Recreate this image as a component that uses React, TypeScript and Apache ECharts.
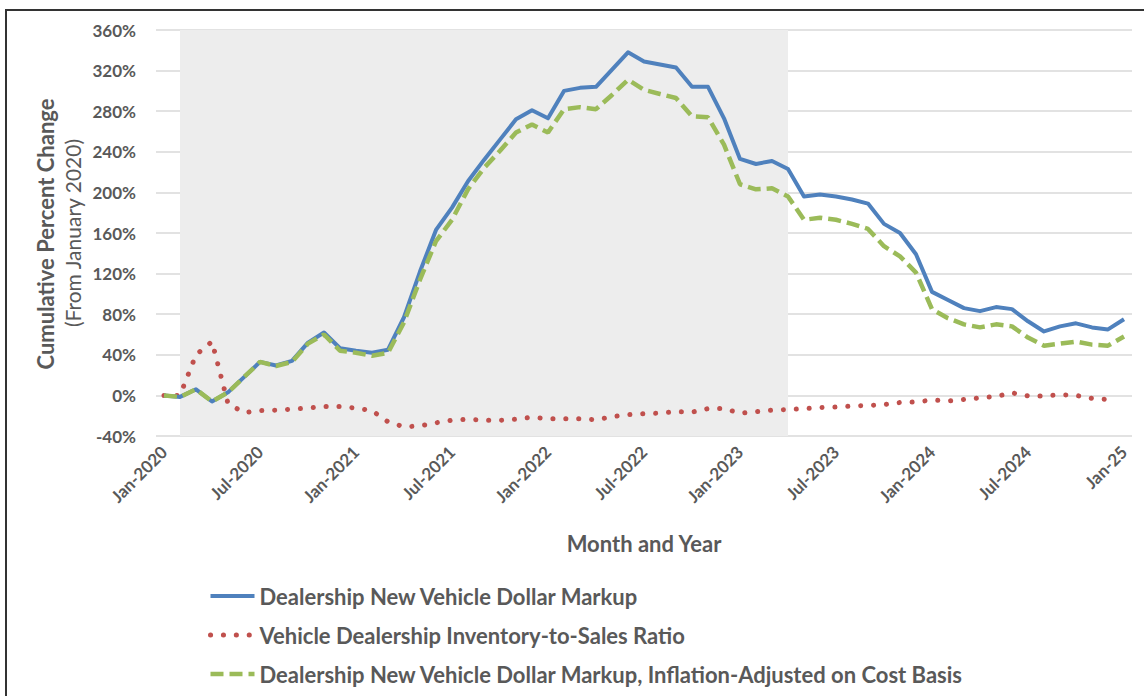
import React, { useEffect, useRef } from "react";
import * as echarts from "echarts";

const categories: string[] = [
  "Jan-2020", "Feb-2020", "Mar-2020", "Apr-2020", "May-2020", "Jun-2020", "Jul-2020", "Aug-2020", "Sep-2020", "Oct-2020", "Nov-2020", "Dec-2020",
  "Jan-2021", "Feb-2021", "Mar-2021", "Apr-2021", "May-2021", "Jun-2021", "Jul-2021", "Aug-2021", "Sep-2021", "Oct-2021", "Nov-2021", "Dec-2021",
  "Jan-2022", "Feb-2022", "Mar-2022", "Apr-2022", "May-2022", "Jun-2022", "Jul-2022", "Aug-2022", "Sep-2022", "Oct-2022", "Nov-2022", "Dec-2022",
  "Jan-2023", "Feb-2023", "Mar-2023", "Apr-2023", "May-2023", "Jun-2023", "Jul-2023", "Aug-2023", "Sep-2023", "Oct-2023", "Nov-2023", "Dec-2023",
  "Jan-2024", "Feb-2024", "Mar-2024", "Apr-2024", "May-2024", "Jun-2024", "Jul-2024", "Aug-2024", "Sep-2024", "Oct-2024", "Nov-2024", "Dec-2024",
  "Jan-25",
];

const markupNominal: number[] = [
  0, -1.5, 6, -6, 3, 18, 33, 29.5, 34, 52, 62, 46.5,
  44, 42, 45, 77, 122, 163, 185, 211, 232, 252, 272, 281,
  273, 300, 303, 304, 321, 338, 329, 326, 323, 304, 304, 273,
  233, 228, 231, 223, 196, 198, 196, 193, 189, 169, 160, 139,
  102, 94, 86, 83, 87, 85, 73, 63, 68, 71, 67, 65,
  75,
];

const inventoryToSales: (number | null)[] = [
  0, 0, 40, 53, -8, -17, -15, -14.5, -13.5, -12.5, -11, -11,
  -12.5, -15, -26, -31, -30, -27, -24.5, -23.5, -24.5, -24.5, -23.5, -21.5,
  -23, -23, -23, -24, -21, -19, -18, -17.5, -16, -16.5, -13, -13,
  -17.5, -16, -14.5, -14, -13, -12, -11.5, -10.5, -10, -9, -7, -6.5,
  -4.5, -5.5, -4, -2.5, -1, 2.5, -0.5, -0.5, 0.7, 0, -3, -4,
  null,
];

const markupInflationAdj: number[] = [
  0, -1.5, 6, -6, 3, 18, 33, 29, 33, 51, 60, 44,
  42, 39, 42, 72, 114, 152, 173, 203, 224, 241, 259, 267,
  259, 282, 284, 282, 296, 311, 301, 297, 293, 275, 274, 247,
  208, 203, 204, 196, 173, 175, 173, 169, 164, 147, 137, 121,
  85, 76, 70, 67, 70, 68, 57, 49, 51, 53, 50, 49,
  58,
];

const shadedPeriod: [string, string] = ["Feb-2020", "Apr-2023"];

const seriesNames = [
  "Dealership New Vehicle Dollar Markup",
  "Vehicle Dealership Inventory-to-Sales Ratio",
  "Dealership New Vehicle Dollar Markup, Inflation-Adjusted on Cost Basis",
];

const FONT = "Lato";
const TXT = "#595959";
const BLUE = "#4F81BD";
const RED = "#C0504D";
const GREEN = "#9BBB59";

const blueLine = { color: BLUE, width: 4, join: "round" };
const redLine = { color: RED, width: 5, type: [0.1, 12.8], cap: "round" };
const greenLine = { color: GREEN, width: 4.5, type: [13, 6] };

export default function App() {
  const ref = useRef<HTMLDivElement>(null);
  useEffect(() => {
    if (!ref.current) return;
    const chart = echarts.init(ref.current, undefined, { renderer: "svg" });
    chart.setOption({
      animation: false,
      backgroundColor: "#ffffff",
      textStyle: { fontFamily: FONT },
      grid: { left: 156, right: 12, top: 30, bottom: 260, containLabel: false },
      xAxis: {
        type: "category",
        data: categories,
        boundaryGap: true,
        axisLine: { show: false },
        axisTick: { show: false },
        axisLabel: {
          interval: 5,
          rotate: 45,
          margin: 13,
          color: TXT,
          fontFamily: FONT,
          fontWeight: "bold",
          fontSize: 17,
        },
        name: "Month and Year",
        nameLocation: "middle",
        nameGap: 96,
        nameTextStyle: { color: TXT, fontFamily: FONT, fontWeight: "bold", fontSize: 22, verticalAlign: "top" },
      },
      yAxis: {
        type: "value",
        min: -40,
        max: 360,
        interval: 40,
        axisLine: { show: false },
        axisTick: { show: false },
        splitLine: { lineStyle: { color: "#D9D9D9", width: 1.5 } },
        axisLabel: {
          formatter: "{value}%",
          margin: 20,
          color: TXT,
          fontFamily: FONT,
          fontWeight: "bold",
          fontSize: 17,
        },
      },
      legend: {
        data: [
          { name: seriesNames[0], lineStyle: blueLine },
          { name: seriesNames[1], lineStyle: redLine },
          { name: seriesNames[2], lineStyle: greenLine },
        ],
        orient: "vertical",
        left: 203,
        top: 580,
        itemWidth: 44,
        itemHeight: 14,
        itemGap: 17,
        itemStyle: { opacity: 0 },
        textStyle: { color: TXT, fontFamily: FONT, fontWeight: "bold", fontSize: 22, padding: [0, 0, 0, 0] },
      },
      graphic: [
        {
          type: "rect",
          shape: { x: 6, y: 10, width: 1200, height: 800 },
          style: { fill: "none", stroke: "#333333", lineWidth: 2 },
          silent: true,
        },
        {
          type: "text",
          x: 45,
          y: 234,
          rotation: Math.PI / 2,
          style: {
            text: "Cumulative Percent Change",
            fill: TXT,
            font: `bold 22px ${FONT}`,
            align: "center",
            verticalAlign: "middle",
          },
        },
        {
          type: "text",
          x: 72,
          y: 233,
          rotation: Math.PI / 2,
          style: {
            text: "(From January 2020)",
            fill: TXT,
            font: `21px ${FONT}`,
            align: "center",
            verticalAlign: "middle",
          },
        },
      ],
      series: [
        {
          name: "shade",
          type: "line",
          data: [],
          z: -1,
          silent: true,
          markArea: {
            silent: true,
            itemStyle: { color: "#EDEDED" },
            data: [[{ xAxis: shadedPeriod[0] }, { xAxis: shadedPeriod[1] }]],
          },
        },
        {
          name: seriesNames[0],
          type: "line",
          data: markupNominal,
          showSymbol: false,
          symbol: "none",
          z: 3,
          lineStyle: blueLine,
          itemStyle: { color: BLUE },
        },
        {
          name: seriesNames[1],
          type: "line",
          data: inventoryToSales,
          showSymbol: false,
          symbol: "none",
          z: 2,
          lineStyle: redLine,
          itemStyle: { color: RED },
        },
        {
          name: seriesNames[2],
          type: "line",
          data: markupInflationAdj,
          showSymbol: false,
          symbol: "none",
          z: 4,
          lineStyle: greenLine,
          itemStyle: { color: GREEN },
        },
      ],
    });
    return () => chart.dispose();
  }, []);
  return (
    <div
      ref={ref}
      style={{ position: "absolute", left: 0, top: 0, width: 1144, height: 696 }}
    />
  );
}
